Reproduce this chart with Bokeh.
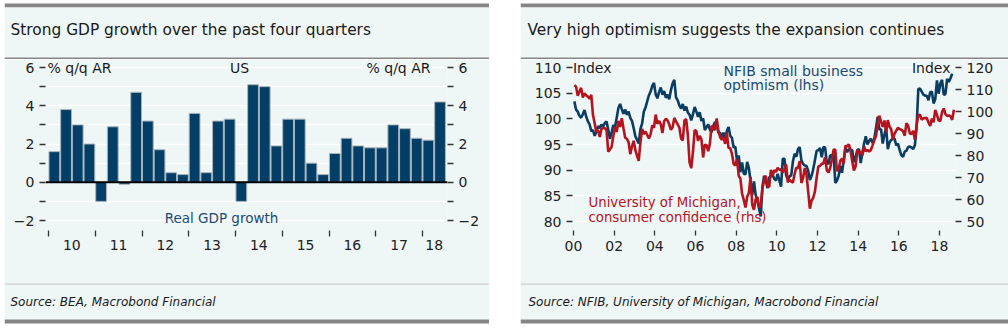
import pandas as pd
from bokeh.plotting import figure
from bokeh.layouts import row, column
from bokeh.models import Range1d, LinearAxis, FixedTicker, Span, Spacer
from bokeh.core.properties import value
from bokeh.embed import file_html
from bokeh.resources import INLINE

# ---------------- data ----------------
gdp_quarters = ["2010Q1", "2010Q2", "2010Q3", "2010Q4",
                "2011Q1", "2011Q2", "2011Q3", "2011Q4",
                "2012Q1", "2012Q2", "2012Q3", "2012Q4",
                "2013Q1", "2013Q2", "2013Q3", "2013Q4",
                "2014Q1", "2014Q2", "2014Q3", "2014Q4",
                "2015Q1", "2015Q2", "2015Q3", "2015Q4",
                "2016Q1", "2016Q2", "2016Q3", "2016Q4",
                "2017Q1", "2017Q2", "2017Q3", "2017Q4",
                "2018Q1", "2018Q2"]
gdp_growth = [1.6, 3.8, 3.0, 2.0,
              -1.0, 2.9, -0.1, 4.7,
              3.2, 1.7, 0.5, 0.4,
              3.6, 0.5, 3.2, 3.3,
              -1.0, 5.1, 5.0, 1.9,
              3.3, 3.3, 1.0, 0.4,
              1.5, 2.3, 1.9, 1.8,
              1.8, 3.0, 2.8, 2.3,
              2.2, 4.2]
gdp_year_labels = ["10", "11", "12", "13", "14", "15", "16", "17", "18"]
gdp_left_ticks = [-2, -1, 0, 1, 2, 3, 4, 5, 6]

nfib_start = "2000-01"
nfib = [103.4, 101.8, 101.4, 100.6, 100.2, 100.9, 101.7, 100.4, 99.5, 98.9, 97.6, 97.8,
        96.7, 97.5, 98.6, 98.2, 98.9, 98.5, 99.2, 99.5, 97.9, 96.1, 97.3, 98.8,
        98.4, 100.2, 102.1, 102.9, 101.9, 101.0, 101.8, 100.8, 101.4, 100.2, 99.6, 98.2,
        96.6, 95.9, 95.2, 98.0, 99.1, 101.4, 102.2, 103.4, 104.6, 105.3, 106.4, 107.0,
        104.8, 104.0, 105.2, 106.1, 104.7, 105.4, 104.1, 104.7, 103.8, 105.6, 106.9, 107.6,
        104.2, 103.6, 102.6, 102.0, 102.9, 101.6, 102.4, 101.2, 100.8, 99.7, 100.9, 102.3,
        101.4, 100.4, 101.3, 99.6, 100.1, 97.8, 98.4, 98.9, 97.9, 97.4, 98.6, 99.4,
        98.9, 97.3, 97.3, 96.3, 97.3, 96.0, 97.6, 98.4, 96.7, 96.3, 94.4, 94.6,
        91.8, 92.9, 89.6, 91.5, 89.3, 89.2, 91.6, 90.4, 87.8, 85.2, 87.8, 85.2,
        84.1, 82.6, 81.0, 86.8, 88.9, 87.9, 86.5, 88.6, 88.8, 89.1, 88.3, 88.0,
        89.3, 88.0, 86.8, 92.2, 92.2, 89.0, 88.1, 88.8, 89.0, 91.7, 93.2, 92.6,
        94.1, 94.5, 91.9, 91.2, 90.9, 90.8, 89.9, 88.1, 88.9, 90.2, 92.0, 93.8,
        93.9, 94.3, 92.5, 94.5, 94.4, 91.4, 91.2, 92.9, 92.8, 93.1, 87.5, 88.0,
        88.9, 90.8, 89.5, 92.1, 94.4, 93.5, 94.1, 94.0, 93.9, 91.6, 92.5, 93.9,
        94.1, 91.4, 93.4, 95.2, 96.6, 95.0, 95.7, 96.1, 95.3, 96.1, 98.1, 100.4,
        97.9, 98.0, 95.2, 96.9, 98.3, 94.1, 95.4, 95.9, 96.1, 96.1, 94.8, 95.2,
        93.9, 92.9, 92.6, 93.6, 93.8, 94.5, 94.6, 94.4, 94.1, 94.9, 98.4, 105.8,
        105.9, 105.3, 104.7, 104.5, 104.5, 103.6, 105.2, 105.3, 103.0, 103.8, 107.5, 104.9,
        106.9, 107.6, 104.7, 104.8, 107.8, 107.2, 107.9, 108.8]

umich_start = "2000-01"
umich = [112.0, 111.3, 107.1, 109.2, 110.7, 106.4, 108.3, 107.3, 106.8, 105.8, 107.6, 98.4,
         94.7, 90.6, 91.5, 88.4, 92.0, 92.6, 92.4, 91.5, 81.8, 82.7, 83.9, 88.8,
         93.0, 90.7, 95.7, 93.0, 96.9, 92.4, 88.1, 87.6, 86.1, 80.6, 84.2, 86.7,
         82.4, 79.9, 77.6, 86.0, 92.1, 89.7, 90.9, 89.3, 87.7, 89.6, 93.7, 92.6,
         98.6, 94.4, 95.8, 94.2, 90.2, 95.6, 96.7, 95.9, 94.2, 91.7, 92.8, 97.1,
         95.5, 94.1, 92.6, 87.7, 86.9, 96.0, 96.5, 89.1, 76.9, 74.2, 81.6, 91.5,
         91.2, 86.7, 88.9, 87.4, 79.1, 84.9, 84.7, 82.0, 85.4, 93.6, 92.1, 91.7,
         96.9, 91.3, 88.4, 87.1, 88.3, 85.3, 90.4, 83.4, 83.4, 80.9, 76.1, 75.5,
         78.4, 70.8, 69.5, 62.6, 59.8, 56.4, 61.2, 63.0, 70.3, 57.6, 55.3, 60.1,
         61.2, 56.3, 57.3, 65.1, 68.7, 70.8, 66.0, 65.7, 73.5, 70.6, 73.4, 72.5,
         74.4, 73.6, 73.6, 72.2, 73.6, 76.0, 67.8, 68.9, 68.2, 67.7, 71.6, 74.5,
         74.2, 77.5, 67.5, 69.8, 74.3, 71.5, 63.7, 55.8, 59.5, 60.8, 63.7, 69.9,
         75.0, 75.3, 76.2, 76.4, 79.3, 73.2, 72.3, 74.3, 78.3, 82.6, 82.7, 72.9,
         73.8, 77.6, 78.6, 76.4, 84.5, 84.1, 85.1, 82.1, 77.5, 73.2, 75.1, 82.5,
         81.2, 81.6, 80.0, 84.1, 81.9, 82.5, 81.8, 82.5, 84.6, 86.9, 88.8, 93.6,
         98.1, 95.4, 93.0, 95.9, 90.7, 96.1, 93.1, 91.9, 87.2, 90.0, 91.3, 92.6,
         92.0, 91.7, 91.0, 89.0, 94.7, 93.5, 90.0, 89.8, 91.2, 87.2, 93.8, 98.2,
         98.5, 96.3, 96.9, 97.0, 97.1, 95.0, 93.4, 96.8, 95.1, 100.7, 98.5, 95.9,
         95.7, 99.7, 101.4, 98.8, 98.0, 98.2, 97.9, 96.2, 100.8]

conf_year_labels = ["00", "02", "04", "06", "08", "10", "12", "14", "16", "18"]
conf_years = [2000, 2002, 2004, 2006, 2008, 2010, 2012, 2014, 2016, 2018]
nfib_ticks = [80, 85, 90, 95, 100, 105, 110]
umich_ticks = [50, 60, 70, 80, 90, 100, 110, 120]

# ---------------- styles ----------------
FONT = "DejaVu Sans"
BG = "#EEF6F6"
GRAY = "#858585"
BAR = "#023E65"
BLUE = "#0B3D62"
RED = "#B5141E"
TXT = "#1a1a1a"
TICK_FS = "14px"
ANN_FS = "14px"


def month_pos(start, n):
    d = pd.period_range(start=start, periods=n, freq="M")
    return [p.year + (p.month - 0.5) / 12.0 for p in d]


def quarter_pos(labels):
    out = []
    for s in labels:
        y, q = int(s[:4]), int(s[-1])
        out.append(y + (q - 1) / 4.0 + 0.125)
    return out


def deco_fig(w, h):
    f = figure(width=w, height=h, x_range=Range1d(0, w), y_range=Range1d(h, 0),
               x_axis_type=None, y_axis_type=None, toolbar_location=None,
               output_backend="svg", min_border=0, frame_align=False)
    f.min_border_left = f.min_border_right = f.min_border_top = f.min_border_bottom = 0
    f.grid.visible = False
    f.outline_line_color = None
    f.background_fill_color = "white"
    f.border_fill_color = "white"
    return f


def header(w, title, tx):
    f = deco_fig(w, 59)
    f.quad(left=0, right=w, top=3, bottom=7, fill_color=GRAY, line_color=None)
    f.quad(left=0, right=w, top=7, bottom=57, fill_color=BG, line_color=None)
    f.quad(left=0, right=w, top=57, bottom=59, fill_color=GRAY, line_color=None)
    f.text(x=[tx], y=[29.5], text=[title], text_font=value(FONT), text_font_size="15.4px",
           text_color=TXT, text_baseline="middle", text_align="left")
    return f


def footer(w, src, tx):
    f = deco_fig(w, 46)
    f.quad(left=0, right=w, top=0, bottom=1, fill_color=GRAY, line_color=None)
    f.quad(left=0, right=w, top=1, bottom=36, fill_color=BG, line_color=None)
    f.quad(left=0, right=w, top=36, bottom=40, fill_color=GRAY, line_color=None)
    f.text(x=[tx], y=[18], text=[src], text_font=value(FONT), text_font_size="12px",
           text_font_style="italic", text_color=TXT, text_baseline="middle", text_align="left")
    return f


def style_axis(ax):
    ax.axis_line_color = None
    ax.major_tick_line_color = "#333333"
    ax.major_tick_line_width = 1.3
    ax.major_tick_out = 6
    ax.major_tick_in = 0
    ax.minor_tick_line_color = None
    ax.major_label_text_font = FONT
    ax.major_label_text_font_size = TICK_FS
    ax.major_label_text_color = "#222222"
    ax.major_label_standoff = 5


# ---------------- left chart ----------------
LW = 485
px_yr = 46.75
xs0 = 2010 - 3 / px_yr
xs1 = 2010 + (447 - 48) / px_yr
py = 19.125
ys0 = -2 - 10 / py
ys1 = 6 + 6 / py

p1 = figure(width=LW, height=224, x_range=Range1d(xs0, xs1), y_range=Range1d(ys0, ys1),
            toolbar_location=None, output_backend="svg", frame_align=False,
            min_border_left=41, min_border_right=42, min_border_top=2, min_border_bottom=53)
p1.background_fill_color = BG
p1.border_fill_color = BG
p1.outline_line_color = None

bx = quarter_pos(gdp_quarters)
p1.vbar(x=bx, top=gdp_growth, bottom=0, width=0.25 * 0.92, fill_color=BAR,
        line_color="#A9B4BD", line_width=1)
p1.add_layout(Span(location=0, dimension="width", line_color="black", line_width=2))

lt = FixedTicker(ticks=gdp_left_ticks)
ov = {t: ("" if t % 2 else ("\u22122" if t < 0 else str(t))) for t in gdp_left_ticks}
style_axis(p1.yaxis[0])
p1.yaxis[0].ticker = lt
p1.yaxis[0].major_label_overrides = ov
ra = LinearAxis(ticker=FixedTicker(ticks=gdp_left_ticks))
style_axis(ra)
ra.major_label_overrides = ov
p1.add_layout(ra, "right")

p1.ygrid.ticker = lt
p1.ygrid.grid_line_color = "white"
p1.ygrid.grid_line_width = 1.5
p1.xgrid.visible = False

yrs = list(range(2010, 2019))
mids = [y + 0.5 for y in yrs[:-1]] + [2018.25]
xa = p1.xaxis[0]
style_axis(xa)
xa.ticker = FixedTicker(ticks=mids, minor_ticks=yrs)
xa.major_tick_line_color = None
xa.major_tick_out = 0
xa.minor_tick_line_color = "#333333"
xa.minor_tick_line_width = 1.3
xa.minor_tick_out = 6
xa.minor_tick_in = 0
xa.major_label_standoff = 3
xa.major_label_overrides = {m: l for m, l in zip(mids, gdp_year_labels)}

p1.text(x=[2010 - 1 / px_yr], y=[6], text=["% q/q AR"], text_font=value(FONT),
        text_font_size=ANN_FS, text_color=TXT, text_baseline="middle", text_align="left")
p1.text(x=[2010 + (239 - 48) / px_yr], y=[6], text=["US"], text_font=value(FONT),
        text_font_size=ANN_FS, text_color=TXT, text_baseline="middle", text_align="center")
p1.text(x=[2010 + (430 - 48) / px_yr], y=[6], text=["% q/q AR"], text_font=value(FONT),
        text_font_size=ANN_FS, text_color=TXT, text_baseline="middle", text_align="right")
p1.text(x=[2010 + (221 - 48) / px_yr], y=[-1.85], text=["Real GDP growth"], text_font=value(FONT),
        text_font_size="13.5px", text_color="#1B4A72", text_baseline="middle", text_align="center")

# ---------------- right chart ----------------
RW = 488
px2 = 20.333
x2s0 = 2000 - 1 / px2
x2s1 = 2000 + (955 - 573) / px2
pl = 154 / 30.0
pr = 154 / 70.0
p2 = figure(width=RW, height=224, x_range=Range1d(x2s0, x2s1),
            y_range=Range1d(80 - 9 / pl, 110 + 6 / pl),
            toolbar_location=None, output_backend="svg", frame_align=False,
            min_border_left=52, min_border_right=53, min_border_top=2, min_border_bottom=53)
p2.extra_y_ranges = {"rhs": Range1d(50 - 9 / pr, 120 + 6 / pr)}
p2.background_fill_color = BG
p2.border_fill_color = BG
p2.outline_line_color = None

nt = FixedTicker(ticks=nfib_ticks)
style_axis(p2.yaxis[0])
p2.yaxis[0].ticker = nt
ra2 = LinearAxis(y_range_name="rhs", ticker=FixedTicker(ticks=umich_ticks))
style_axis(ra2)
p2.add_layout(ra2, "right")
p2.ygrid.ticker = nt
p2.ygrid.grid_line_color = "white"
p2.ygrid.grid_line_width = 1.5
p2.xgrid.visible = False

xb = p2.xaxis[0]
style_axis(xb)
xb.ticker = FixedTicker(ticks=conf_years)
xb.major_tick_out = 5
xb.major_label_standoff = 5
xb.major_label_overrides = {y: l for y, l in zip(conf_years, conf_year_labels)}

p2.line(month_pos(nfib_start, len(nfib)), nfib, line_color=BLUE, line_width=2.6)
p2.line(month_pos(umich_start, len(umich)), umich, line_color=RED, line_width=2.6,
        y_range_name="rhs")

p2.text(x=[x2s0 + 0.02], y=[110], text=["Index"], text_font=value(FONT),
        text_font_size=ANN_FS, text_color=TXT, text_baseline="middle", text_align="left")
p2.text(x=[2000 + (950 - 573) / px2], y=[110], text=["Index"], text_font=value(FONT),
        text_font_size=ANN_FS, text_color=TXT, text_baseline="middle", text_align="right")
p2.text(x=[2000 + (723 - 573) / px2] * 2, y=[109.4, 106.5],
        text=["NFIB small business", "optimism (lhs)"], text_font=value(FONT),
        text_font_size=ANN_FS, text_color="#1B4A72", text_baseline="middle", text_align="left")
p2.text(x=[2000 + (588 - 573) / px2] * 2, y=[83.7, 80.8],
        text=["University of Michigan,", "consumer confidence (rhs)"], text_font=value(FONT),
        text_font_size="13.3px", text_color=RED, text_baseline="middle", text_align="left")

# ---------------- layout ----------------
left = column(header(LW, "Strong GDP growth over the past four quarters", 6), p1,
              footer(LW, "Source: BEA, Macrobond Financial", 6), spacing=0)
right = column(header(RW, "Very high optimism suggests the expansion continues", 7), p2,
               footer(RW, "Source: NFIB, University of Michigan, Macrobond Financial", 8), spacing=0)
layout = row(Spacer(width=4, height=329), left, Spacer(width=31, height=329), right, spacing=0)

open("out.html", "w").write(file_html(layout, INLINE))
